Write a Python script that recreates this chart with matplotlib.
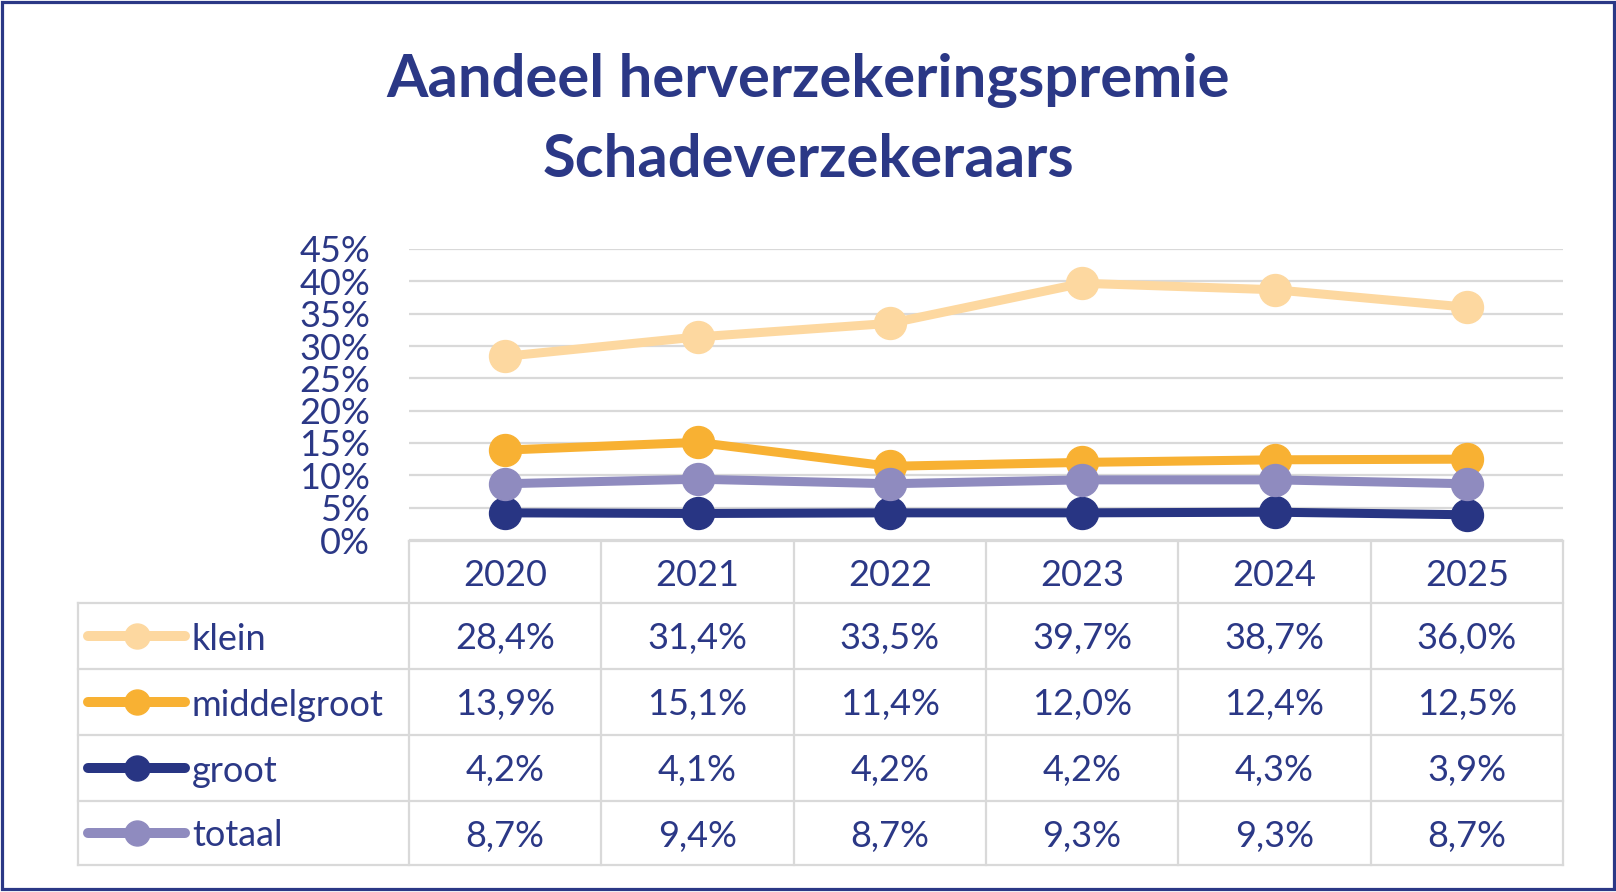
import matplotlib
matplotlib.use("Agg")
import matplotlib.pyplot as plt
from matplotlib.lines import Line2D
from matplotlib.patches import Rectangle
from matplotlib.transforms import blended_transform_factory

years = ["2020", "2021", "2022", "2023", "2024", "2025"]
series_names = ["klein", "middelgroot", "groot", "totaal"]
klein = [28.4, 31.4, 33.5, 39.7, 38.7, 36.0]
middelgroot = [13.9, 15.1, 11.4, 12.0, 12.4, 12.5]
groot = [4.2, 4.1, 4.2, 4.2, 4.3, 3.9]
totaal = [8.7, 9.4, 8.7, 9.3, 9.3, 8.7]
y_ticks = [0, 5, 10, 15, 20, 25, 30, 35, 40, 45]
title_lines = ["Aandeel herverzekeringspremie", "Schadeverzekeraars"]

colors = {"klein": "#FDD8A0", "middelgroot": "#F8B133",
          "groot": "#283583", "totaal": "#8F8BBF"}
navy = "#2B3886"
grid_c = "#D9D9D9"

plt.rcParams['font.family'] = ['Lato', 'DejaVu Sans']

W, H = 1616, 892
fig = plt.figure(figsize=(W / 100, H / 100), dpi=100)
fig.patch.set_facecolor("white")

def fx(px):
    return px / W

def fy(py):
    return 1 - py / H

# chart axes
left, right, top, bottom = 409, 1563, 249, 540
ax = fig.add_axes([fx(left), fy(bottom), fx(right - left), (bottom - top) / H])
ax.set_xlim(-0.5, len(years) - 0.5)
ax.set_ylim(0, 45)
ax.set_yticks(y_ticks)
ax.set_yticklabels([f"{t}%" for t in y_ticks], fontsize=26, color=navy)
ax.set_xticks([])
ax.tick_params(axis='y', length=0, pad=28)
for s in ax.spines.values():
    s.set_visible(False)
ax.yaxis.grid(True, color=grid_c, lw=1.6)
ax.set_axisbelow(True)
ax.patch.set_alpha(0)

data = {"klein": klein, "middelgroot": middelgroot, "groot": groot, "totaal": totaal}
xs = list(range(len(years)))
for i, name in enumerate(series_names):
    ax.plot(xs, data[name], color=colors[name], lw=6.5, marker='o', markersize=23,
            solid_capstyle='round', clip_on=False, zorder=3 + i)

# title
fig.text(0.5, fy(97), title_lines[0], ha='center', va='baseline', fontsize=43,
         fontweight='bold', color=navy)
fig.text(0.5, fy(177), title_lines[1], ha='center', va='baseline', fontsize=43,
         fontweight='bold', color=navy)

# data table
tr = blended_transform_factory(ax.transData, fig.transFigure)
row_y = [541, 603, 669, 735, 801, 865]
tab_left = 78
lw_t = 1.6
n = len(years)
# header top line (axis line)
fig.add_artist(Line2D([-0.5, n - 0.5], [fy(541), fy(541)], transform=tr, color=grid_c, lw=lw_t))
# row lines
for yy in row_y[1:]:
    fig.add_artist(Line2D([fx(tab_left), fx(right)], [fy(yy), fy(yy)],
                          transform=fig.transFigure, color=grid_c, lw=lw_t))
# vertical lines
for k in range(n + 1):
    fig.add_artist(Line2D([k - 0.5, k - 0.5], [fy(541), fy(865)], transform=tr,
                          color=grid_c, lw=lw_t))
fig.add_artist(Line2D([fx(tab_left), fx(tab_left)], [fy(603), fy(865)],
                      transform=fig.transFigure, color=grid_c, lw=lw_t))

# header years
for k, yr in enumerate(years):
    fig.text(k, fy((541 + 603) / 2), yr, transform=tr, ha='center', va='center_baseline',
             fontsize=26, color=navy)

# rows
for r, name in enumerate(series_names):
    yc = fy((row_y[r + 1] + row_y[r + 2]) / 2)
    fig.add_artist(Line2D([fx(88), fx(185)], [yc, yc], transform=fig.transFigure,
                          color=colors[name], lw=7.2, solid_capstyle='round'))
    fig.add_artist(Line2D([fx(137)], [yc], transform=fig.transFigure, color=colors[name],
                          marker='o', markersize=18, lw=0))
    fig.text(fx(192), yc, name, ha='left', va='center_baseline', fontsize=26, color=navy)
    for k, v in enumerate(data[name]):
        fig.text(k, yc, f"{v:.1f}%".replace('.', ','), transform=tr, ha='center',
                 va='center_baseline', fontsize=26, color=navy)

# outer border
fig.add_artist(Rectangle((fx(1.5), fy(888.5)), fx(1612), (887) / H, transform=fig.transFigure,
                         fill=False, edgecolor=navy, lw=2.3))

fig.savefig("out.png", dpi=100)
